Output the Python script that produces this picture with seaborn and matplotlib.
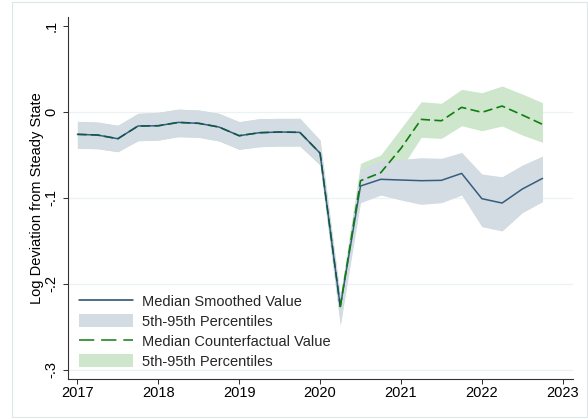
import numpy as np
import pandas as pd
import matplotlib
matplotlib.use("Agg")
import matplotlib.pyplot as plt
from matplotlib.patches import Patch, Rectangle
from matplotlib.lines import Line2D
import seaborn as sns

# quarterly dates, 2017Q1 .. 2022Q4
quarters = ["2017Q1", "2017Q2", "2017Q3", "2017Q4",
            "2018Q1", "2018Q2", "2018Q3", "2018Q4",
            "2019Q1", "2019Q2", "2019Q3", "2019Q4",
            "2020Q1", "2020Q2", "2020Q3", "2020Q4",
            "2021Q1", "2021Q2", "2021Q3", "2021Q4",
            "2022Q1", "2022Q2", "2022Q3", "2022Q4"]

# median smoothed value and its 5th-95th band
smoothed = [-0.0263, -0.0271, -0.0314, -0.0166, -0.0163, -0.0124, -0.0135, -0.0178,
            -0.0279, -0.0244, -0.0236, -0.0240, -0.0482, -0.2267, -0.0864, -0.0786,
            -0.0794, -0.0802, -0.0798, -0.0717, -0.1011, -0.1062, -0.0899, -0.0775]
smoothed_hi = [-0.0112, -0.0120, -0.0158, -0.0019, -0.0007, 0.0030, 0.0020, -0.0019,
               -0.0116, -0.0081, -0.0077, -0.0077, -0.0330, -0.2140, -0.0678, -0.0570,
               -0.0554, -0.0535, -0.0542, -0.0473, -0.0724, -0.0756, -0.0620, -0.0515]
smoothed_lo = [-0.0426, -0.0430, -0.0465, -0.0337, -0.0330, -0.0290, -0.0298, -0.0340,
               -0.0437, -0.0407, -0.0399, -0.0399, -0.0620, -0.2480, -0.1058, -0.0969,
               -0.1027, -0.1077, -0.1058, -0.0969, -0.1337, -0.1387, -0.1174, -0.1046]

# counterfactual from 2020Q3 on (same as smoothed before that)
cf_start = 14
counterfactual_post = [-0.0802, -0.0709, -0.0426, -0.0089, -0.0105,
                       0.0051, -0.0007, 0.0066, -0.0038, -0.0147]
counterfactual_hi_post = [-0.0600, -0.0503, -0.0193, 0.0116, 0.0098,
                          0.0260, 0.0221, 0.0299, 0.0206, 0.0105]
counterfactual_lo_post = [-0.0980, -0.0900, -0.0660, -0.0298, -0.0310,
                          -0.0163, -0.0221, -0.0166, -0.0271, -0.0356]

counterfactual = smoothed[:cf_start] + counterfactual_post
counterfactual_hi = smoothed_hi[:cf_start] + counterfactual_hi_post
counterfactual_lo = smoothed_lo[:cf_start] + counterfactual_lo_post

ytick_vals = [0.1, 0, -0.1, -0.2, -0.3]
ytick_labels = [".1", "0", "-.1", "-.2", "-.3"]
xtick_vals = [2017, 2018, 2019, 2020, 2021, 2022, 2023]

labels = ["Median Smoothed Value", "5th-95th Percentiles",
          "Median Counterfactual Value", "5th-95th Percentiles"]

per = pd.PeriodIndex(quarters, freq="Q")
t = per.year + (per.quarter - 1) / 4.0
df = pd.DataFrame({"t": t, "smoothed": smoothed, "lo": smoothed_lo, "hi": smoothed_hi,
                   "cf": counterfactual, "cf_lo": counterfactual_lo, "cf_hi": counterfactual_hi})

sns.set_theme(style="white")
plt.rcParams["font.family"] = ["Liberation Sans", "DejaVu Sans"]

navy = "#1a476f"
green = "#0e7f0e"
gray_band = "#d3dbe3"
green_band = "#cde6cc"
dash = (0, (5.5, 2.6))

fig = plt.figure(figsize=(5.88, 4.19), dpi=100)
ax = fig.add_axes([68 / 588, 1 - 379 / 419, (572.7 - 68) / 588, (379 - 16.7) / 419])

ax.fill_between(df["t"], df["cf_lo"], df["cf_hi"], color=green_band, lw=0, zorder=1)
ax.fill_between(df["t"], df["lo"], df["hi"], color=gray_band, lw=0, zorder=2)
# counterfactual under the smoothed line where the two paths coincide
sns.lineplot(data=df.iloc[:cf_start], x="t", y="cf", ax=ax, color=green, lw=1.2,
             zorder=3, ls=dash)
sns.lineplot(data=df, x="t", y="smoothed", ax=ax, color=navy, lw=1.1, zorder=4,
             alpha=0.85)
# counterfactual on top where the two paths differ
sns.lineplot(data=df.iloc[cf_start - 1:], x="t", y="cf", ax=ax, color=green, lw=1.2,
             zorder=5, ls=dash)

ax.set_xlim(2016.884, 2023.123)
ax.set_ylim(-0.3108, 0.1105)
ax.set_yticks(ytick_vals, ytick_labels)
ax.set_xticks(xtick_vals, [str(v) for v in xtick_vals])

for v in ytick_vals[1:]:
    ax.axhline(v, color="#eaf2f3", lw=0.9, zorder=0)

ax.set_xlabel("")
ax.set_ylabel("Log Deviation from Steady State", fontsize=10.5, color="black")
ax.yaxis.set_label_coords(-0.048, 0.5)

ax.tick_params(axis="both", which="major", length=3.6, width=0.75, color="#333333",
               labelsize=10.5, labelcolor="black", direction="out", left=True, bottom=True)
ax.tick_params(axis="x", pad=1.5)
ax.tick_params(axis="y", pad=3.5)
for lab in ax.get_yticklabels():
    lab.set_rotation(90)
    lab.set_va("center")
    lab.set_ha("right")
    lab.set_rotation_mode("default")

for side in ["top", "right"]:
    ax.spines[side].set_visible(False)
for side in ["left", "bottom"]:
    ax.spines[side].set_color("#333333")
    ax.spines[side].set_linewidth(0.8)

handles = [Line2D([], [], color=navy, lw=1.1),
           Patch(facecolor=gray_band, edgecolor="none"),
           Line2D([], [], color=green, lw=1.1, ls=(0, (10, 4.5))),
           Patch(facecolor=green_band, edgecolor="none")]
ax.legend(handles, labels, loc="lower left", bbox_to_anchor=((79 - 68) / 504.7, (379 - 368.5) / 362.3),
          frameon=False, fontsize=10.5, handlelength=3.7, handleheight=1.0,
          handletextpad=0.65, labelspacing=0.36, borderpad=0, borderaxespad=0)

fig.patches.append(Rectangle((11.5 / 588, 2.5 / 419), 575 / 588, 414 / 419,
                             transform=fig.transFigure, fill=False,
                             edgecolor="#dde6ea", lw=0.8))

fig.savefig("out.png", dpi=100)
